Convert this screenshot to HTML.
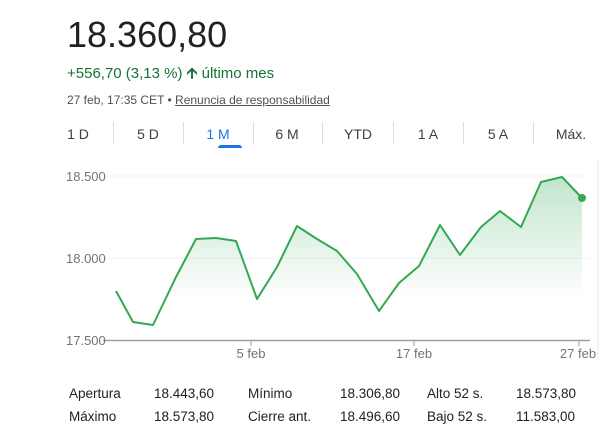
<!DOCTYPE html>
<html><head><meta charset="utf-8"><style>
body{margin:0;width:601px;height:448px;background:#fff;font-family:"Liberation Sans",Arial,sans-serif;position:relative;overflow:hidden}
.a{position:absolute;white-space:nowrap}
.tab{position:absolute;top:126px;font-size:14px;color:#3c4043;transform:translateX(-50%)}
.sep{position:absolute;top:122px;width:1px;height:22px;background:#dadce0}
.st{position:absolute;font-size:13.5px;color:#202124}
</style></head><body>
<div class="a" style="left:67px;top:14px;font-size:36px;color:#202124">18.360,80</div>
<div class="a" style="left:67px;top:63px;font-size:15px;color:#137333">+556,70 (3,13 %) <span style="font-weight:bold">&#129129;</span> último mes</div>
<div class="a" style="left:67px;top:93px;font-size:12px;color:#4d5156">27 feb, 17:35 CET • <span style="text-decoration:underline">Renuncia de responsabilidad</span></div>
<div class="tab" style="left:78px">1 D</div>
<div class="tab" style="left:148px">5 D</div>
<div class="tab" style="left:218px;color:#1a73e8">1 M</div>
<div class="tab" style="left:287px">6 M</div>
<div class="tab" style="left:358px">YTD</div>
<div class="tab" style="left:428px">1 A</div>
<div class="tab" style="left:498px">5 A</div>
<div class="tab" style="left:571px">Máx.</div>
<div class="sep" style="left:113px"></div><div class="sep" style="left:183px"></div><div class="sep" style="left:253px"></div><div class="sep" style="left:322px"></div><div class="sep" style="left:393px"></div><div class="sep" style="left:463px"></div><div class="sep" style="left:533px"></div>
<div class="a" style="left:218px;top:145px;width:24px;height:3px;background:#1a73e8;border-radius:3px 3px 0 0"></div>
<svg class="a" style="left:0;top:0" width="601" height="448">
<defs><linearGradient id="g" x1="0" y1="0" x2="0" y2="1"><stop offset="0" stop-color="#34a853" stop-opacity="0.3"/><stop offset="0.75" stop-color="#34a853" stop-opacity="0"/></linearGradient></defs>
<line x1="103" y1="176" x2="590" y2="176" stroke="#f1f3f4"/>
<line x1="103" y1="258" x2="590" y2="258" stroke="#f1f3f4"/>
<line x1="598" y1="160" x2="598" y2="360" stroke="#e8eaed"/>
<polygon fill="url(#g)" points="116,291 133,322 153,325 176,277 196,239 216,238 236,241 257,299 277,267 297,226 317,239 337,251 357,274 379,311 399,283 419,266 440,225 460,255 481,227 500,211 521,227 541,182 562,177 582,198 582,340 116,340"/>
<polyline fill="none" stroke="#34a853" stroke-width="2" stroke-linejoin="round" points="116,291 133,322 153,325 176,277 196,239 216,238 236,241 257,299 277,267 297,226 317,239 337,251 357,274 379,311 399,283 419,266 440,225 460,255 481,227 500,211 521,227 541,182 562,177 582,198"/>
<circle cx="582" cy="198" r="4" fill="#34a853"/>
<line x1="103" y1="340.5" x2="590" y2="340.5" stroke="#9aa0a6" stroke-width="1.5"/>
<line x1="251" y1="340" x2="251" y2="346" stroke="#9aa0a6"/>
<line x1="414" y1="340" x2="414" y2="346" stroke="#9aa0a6"/>
<line x1="579" y1="340" x2="579" y2="346" stroke="#9aa0a6"/>
<g font-size="13" fill="#70757a" font-family="Liberation Sans,Arial,sans-serif">
<text x="66" y="181">18.500</text><text x="66" y="263">18.000</text><text x="66" y="345">17.500</text>
<text x="251" y="358" text-anchor="middle">5 feb</text><text x="414" y="358" text-anchor="middle">17 feb</text><text x="578" y="358" text-anchor="middle">27 feb</text>
</g></svg>
<div class="st" style="left:69px;top:386px">Apertura</div><div class="st" style="left:154px;top:386px">18.443,60</div>
<div class="st" style="left:248px;top:386px">Mínimo</div><div class="st" style="left:340px;top:386px">18.306,80</div>
<div class="st" style="left:427px;top:386px">Alto 52 s.</div><div class="st" style="left:516px;top:386px">18.573,80</div>
<div class="st" style="left:69px;top:409px">Máximo</div><div class="st" style="left:154px;top:409px">18.573,80</div>
<div class="st" style="left:248px;top:409px">Cierre ant.</div><div class="st" style="left:340px;top:409px">18.496,60</div>
<div class="st" style="left:427px;top:409px">Bajo 52 s.</div><div class="st" style="left:516px;top:409px">11.583,00</div>
</body></html>
